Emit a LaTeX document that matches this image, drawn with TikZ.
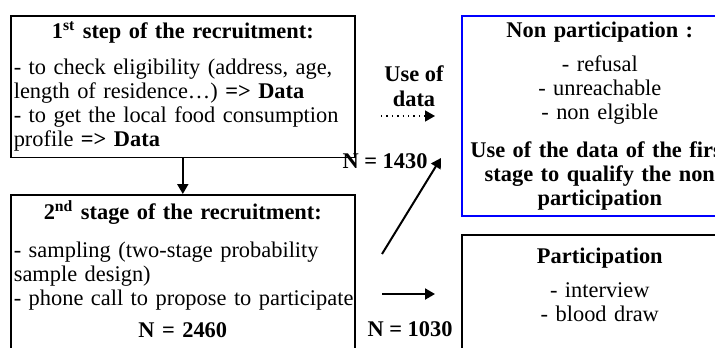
\documentclass[tikz,border=0pt]{standalone}
\usepackage{fontspec}
\setmainfont{Liberation Serif}
\usetikzlibrary{arrows.meta}
\hyphenpenalty=10000
\begin{document}
\begin{tikzpicture}[x=0.5pt, y=-0.5pt,
        recbox/.style={draw=black, line width=0.8pt, anchor=north west, inner xsep=1.5pt, inner ysep=3pt, font=\fontsize{11.2pt}{12pt}\selectfont},
        flow/.style={line width=1pt, -{Triangle[length=5pt, width=5.5pt]}},
        lbl/.style={font=\fontsize{11.2pt}{12.5pt}\selectfont\bfseries, align=center, inner sep=0pt}]
    \useasboundingbox (0,0) rectangle (715,347);
    \clip (0,0) rectangle (715,347);
    \node[recbox, text width=169pt, align=left] (step1) at (10,15) {
        {\centering\bfseries 1\textsuperscript{st} step of the recruitment:\par}
        \vspace{6pt}
        - to check eligibility (address, age,\\
        length of residence…) \textbf{=> Data}\\
        - to get the local food consumption\\
        profile \textbf{=> Data}
    };
    \node[recbox, text width=169pt, align=left] (step2) at (10,194) {
        {\centering\bfseries 2\textsuperscript{nd} stage of the recruitment:\par}
        \vspace{7pt}
        - sampling (two-stage probability\\
        sample design)\\
        \mbox{- phone call to propose to participate}\par
        \vspace{4pt}
        {\centering\bfseries N = 2460\par}
        \vspace{12pt}\null
    };
    \node[recbox, draw=blue, text width=135pt, align=center] (nonpart) at (461,15) {
        {\bfseries Non participation :\par}
        \vspace{5pt}
        - refusal\\
        - unreachable\\
        - non elgible\par
        \vspace{7pt}
        {\bfseries Use of the data of the first\\
        stage to qualify the non\\
        participation\par}
    };
    \node[recbox, text width=135pt, align=center, inner ysep=6.5pt] (part) at (461,234) {
        {\bfseries Participation\par}
        \vspace{5pt}
        - interview\\
        - blood draw\par
        \vspace{30pt}\null
    };
    \node[lbl] (usedata) at (414,86) {Use of\\data};
    \node[lbl] (nA) at (385,161) {N = 1430};
    \node[lbl] (nB) at (410,329) {N = 1030};
    \coordinate (dA) at (381,116);
    \coordinate (dB) at (435,116);
    \coordinate (gA) at (382,254);
    \coordinate (gB) at (441,158);
    \coordinate (hA) at (382,294);
    \coordinate (hB) at (435,294);
    \draw[flow] (step1.south) -- (step2.north);
    \draw[flow, line width=0.7pt, dotted] (dA) -- (dB);
    \draw[flow] (gA) -- (gB);
    \draw[flow] (hA) -- (hB);
\end{tikzpicture}
\end{document}
